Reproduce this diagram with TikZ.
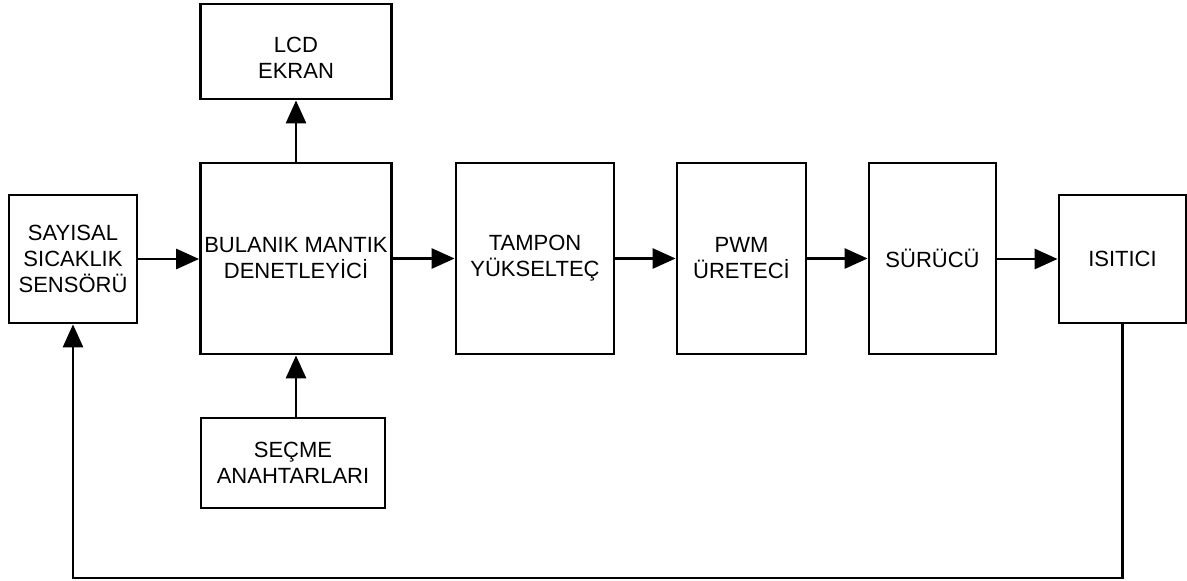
\documentclass[tikz,border=0pt]{standalone}
\usepackage{fontspec}
\setmainfont{Liberation Sans}
\usetikzlibrary{arrows.meta}
\tikzset{
  blk/.style={draw=black, line width=2.8pt, fill=white, inner sep=0pt, align=center,
    font=\fontsize{22}{26}\selectfont},
  arr/.style={line width=2.8pt, -{Triangle[length=23pt,width=20pt]}},
  fb/.style={line width=2.8pt}
}
\begin{document}
\begin{tikzpicture}[x=1pt,y=-1pt]
\useasboundingbox (0,0) rectangle (1187,581);
\node[blk, minimum width=128pt, minimum height=128pt] (sens) at (73,259) {SAYISAL\\SICAKLIK\\SENSÖRÜ};
\node[blk, minimum width=191pt, minimum height=191pt] (flc) at (296,258.5) {BULANIK MANTIK\\DENETLEYİCİ};
\node[blk, minimum width=191pt, minimum height=95pt] (lcd) at (296,51.5) {};
\node[font=\fontsize{22}{26}\selectfont, align=center, inner sep=0pt] (lcdt) at ([yshift=-6pt]lcd.center) {LCD\\EKRAN};
\node[blk, minimum width=184pt, minimum height=90pt] (sec) at (293,463) {SEÇME\\ANAHTARLARI};
\node[blk, minimum width=158pt, minimum height=191pt] (tam) at (535,258.5) {TAMPON\\YÜKSELTEÇ};
\node[blk, minimum width=129pt, minimum height=191pt] (pwm) at (741.5,258.5) {PWM\\ÜRETECİ};
\node[blk, minimum width=127pt, minimum height=191pt] (sur) at (932.5,258.5) {SÜRÜCÜ};
\node[blk, minimum width=127pt, minimum height=128pt] (isi) at (1122.5,259) {ISITICI};
\coordinate (fbR) at (1122.5,578);
\coordinate (fbL) at (73,578);
\draw[arr] (sens.east) -- (flc.west |- sens.east);
\draw[arr] (flc.east |- tam.west) -- (tam.west);
\draw[arr] (tam.east) -- (pwm.west);
\draw[arr] (pwm.east) -- (sur.west);
\draw[arr] (sur.east |- isi.west) -- (isi.west);
\draw[arr] (flc.north) -- (lcd.south);
\draw[arr] (sec.north -| flc.south) -- (flc.south);
\draw[arr] (isi.south) -- (fbR) -- (fbL) -- (sens.south);
\end{tikzpicture}
\end{document}
